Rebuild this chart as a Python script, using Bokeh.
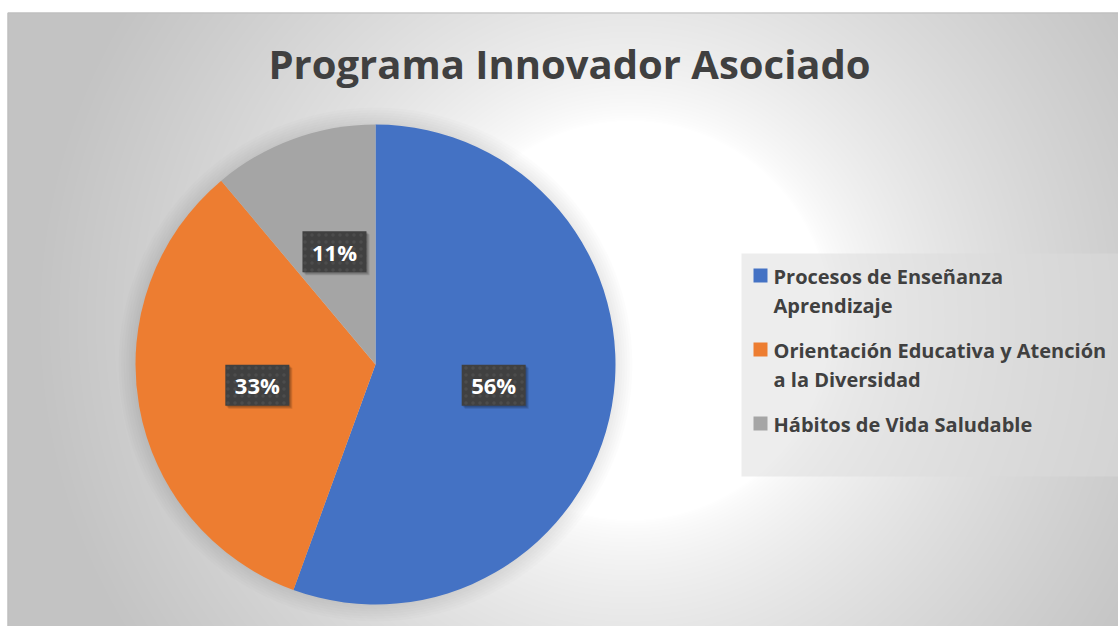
import numpy as np
from bokeh.plotting import figure
from bokeh.models import Range1d
from bokeh.core.properties import value
from bokeh.embed import file_html
from bokeh.resources import INLINE

# ---- data ----
title = "Programa Innovador Asociado"
categories = ["Procesos de Enseñanza Aprendizaje",
              "Orientación Educativa y Atención a la Diversidad",
              "Hábitos de Vida Saludable"]
counts = [5, 3, 1]
colors = ["#4472C4", "#ED7D31", "#A5A5A5"]
legend_lines = [["Procesos de Enseñanza", "Aprendizaje"],
                ["Orientación Educativa y Atención", "a la Diversidad"],
                ["Hábitos de Vida Saludable"]]

# ---- layout (screen pixel coordinates) ----
W, H = 1118, 626
FONT = value("Open Sans")
TXT = "#404040"


def py(y):
    # screen y -> data y (data y grows upward)
    return H - y


p = figure(width=W, height=H, x_range=Range1d(0, W), y_range=Range1d(0, H),
           output_backend="svg", toolbar_location=None, min_border=0,
           x_axis_location=None, y_axis_location=None)
p.grid.visible = False
p.outline_line_color = None
p.background_fill_color = "white"
p.border_fill_color = "white"

# background radial gradient
xs = np.arange(W) + 0.5
ys_page = H - (np.arange(H) + 0.5)
X, Y = np.meshgrid(xs, ys_page)
d = np.hypot(X - 630, Y - 320)
t = np.clip((d - 200) / 400.0, 0, 1) ** 0.7
g = (255 - 60 * t).astype(np.uint8)
img = np.zeros((H, W), dtype=np.uint32)
view = img.view(dtype=np.uint8).reshape((H, W, 4))
view[..., 0] = g
view[..., 1] = g
view[..., 2] = g
view[..., 3] = 255
view[(Y < 12) | (X < 7)] = 255
p.image_rgba(image=[img], x=0, y=0, dw=W, dh=H)

# chart border (top / left)
p.line(x=[7.5, 7.5], y=[0, py(12.5)], line_color="#bdbdbd", line_width=1)
p.line(x=[7.5, W], y=[py(12.5), py(12.5)], line_color="#bdbdbd", line_width=1)

# title
p.text(x=[569], y=[py(63)], text=[title], text_color=TXT, text_font=FONT,
       text_font_style="bold", text_font_size="40px", text_align="center",
       text_baseline="middle")

# pie
cx, cy, R = 375, py(364), 240
for i in range(7):
    p.circle(x=[cx], y=[cy], radius=R + 2 + 2.5 * i, fill_color="black",
             fill_alpha=0.012, line_color=None)

total = float(sum(counts))
fr = [c / total for c in counts]
cum = np.concatenate([[0.0], np.cumsum(fr)])
start = [np.pi / 2 - 2 * np.pi * cum[i] for i in range(len(counts))]
end = [np.pi / 2 - 2 * np.pi * cum[i + 1] for i in range(len(counts))]
p.wedge(x=cx, y=cy, radius=R, start_angle=start, end_angle=end, direction="clock",
        fill_color=colors, line_color=None)

# data labels
labels = [f"{round(f * 100)}%" for f in fr]
mid = [(cum[i] + cum[i + 1]) / 2 for i in range(len(counts))]
ang = [np.pi / 2 - 2 * np.pi * m for m in mid]
lx = [cx + 0.5 * R * np.cos(a) for a in ang]
ly = [cy + 0.5 * R * np.sin(a) for a in ang]
bw, bh = 64, 41
for k in range(3):
    p.quad(left=[x - bw / 2 + 1 + k for x in lx], right=[x + bw / 2 + 1 + k for x in lx],
           top=[y + bh / 2 - 1 - k for y in ly], bottom=[y - bh / 2 - 1 - k for y in ly],
           fill_color="black", fill_alpha=0.12, line_color=None)
p.quad(left=[x - bw / 2 for x in lx], right=[x + bw / 2 for x in lx],
       top=[y + bh / 2 for y in ly], bottom=[y - bh / 2 for y in ly],
       fill_color="#404040", line_color=None, hatch_pattern="dot",
       hatch_color="#4c4c4c", hatch_scale=7, hatch_weight=1)
p.text(x=lx, y=ly, text=labels, text_color="white", text_font=FONT,
       text_font_style="bold", text_font_size="22px", text_align="center",
       text_baseline="middle")

# legend
p.quad(left=[741], right=[W], top=[py(253)], bottom=[py(476)],
       fill_color="#dcdcdc", fill_alpha=0.5, line_color=None)
top = 268.0
line_h, gap, sq = 29.0, 16.0, 14.0
for i, lines in enumerate(legend_lines):
    p.quad(left=[753], right=[753 + sq], top=[py(top)], bottom=[py(top + sq)],
           fill_color=colors[i], line_color=None)
    p.text(x=[773] * len(lines), y=[py(top + 7.5 + j * line_h) for j in range(len(lines))],
           text=lines, text_color=TXT, text_font=FONT, text_font_style="bold",
           text_font_size="20px", text_align="left", text_baseline="middle")
    top += len(lines) * line_h + gap

open("out.html", "w").write(file_html(p, INLINE))
